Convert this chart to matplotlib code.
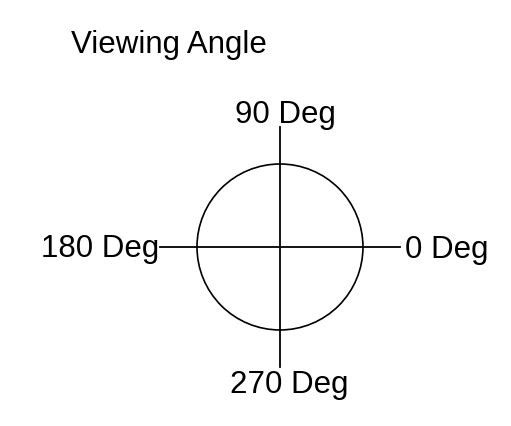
import numpy as np
import matplotlib
matplotlib.use("Agg")
import matplotlib.pyplot as plt
from matplotlib.patches import Circle

# data
angles = [0, 90, 180, 270]
labels = ["0 Deg", "90 Deg", "180 Deg", "270 Deg"]
title = "Viewing Angle"
radius = 1.0
arm = 1.45  # length of cross lines

plt.rcParams['font.family'] = ['Liberation Sans', 'DejaVu Sans']

fig = plt.figure(figsize=(5.11, 4.27), dpi=100)
ax = fig.add_axes([0, 0, 1, 1])
ax.set_xlim(-3.373, 2.783)
ax.set_ylim(-2.157, 2.988)
ax.set_aspect('equal')
ax.axis('off')

# circle
ax.add_patch(Circle((0, 0), radius, fill=False, color='black', lw=1.2))

# cross lines
ax.plot([-arm, arm], [0, 0], color='black', lw=1.3)
ax.plot([0, 0], [-arm, arm], color='black', lw=1.3)

# labels (position by angle)
pos = {
    0: (arm + 0.06, -0.115, 'left'),
    90: (0.06, arm + 0.06, 'center'),
    180: (-arm - 0.01, -0.105, 'right'),
    270: (0.11, -1.75, 'center'),
}
fs = 22.5
for a, lab in zip(angles, labels):
    x, y, ha = pos[a]
    ax.text(x, y, lab, ha=ha, va='baseline', fontsize=fs, color='black')

ax.text(-2.52, 2.35, title, ha='left', va='baseline', fontsize=fs, color='black')

fig.savefig("out.png", dpi=100)
